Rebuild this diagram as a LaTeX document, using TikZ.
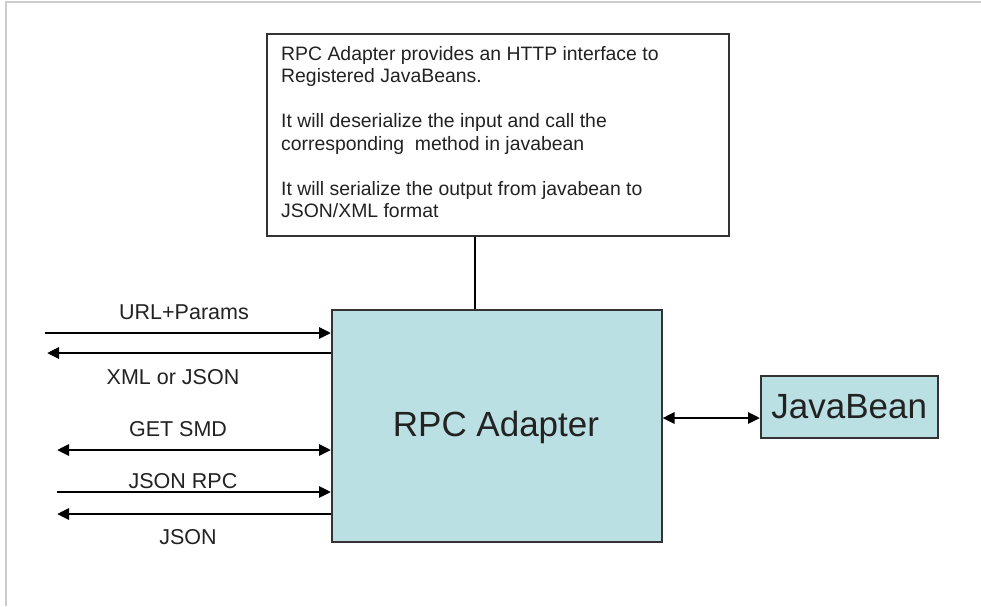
\documentclass[tikz,border=0pt]{standalone}
\usepackage{fontspec}
\setmainfont{Liberation Sans}
\usetikzlibrary{arrows.meta}
\definecolor{boxblue}{HTML}{BBE0E3}
\definecolor{txt}{HTML}{222222}
\definecolor{frame}{HTML}{CCCCCC}
\begin{document}
\begin{tikzpicture}[x=1pt,y=-1pt,
  box/.style={draw=black!80, line width=1.5pt, inner sep=0pt, anchor=north west},
  link/.style={draw=black, line width=2.8pt, -{Triangle[length=12pt,width=11pt]}},
  dlink/.style={draw=black, line width=2.8pt, {Triangle[length=12pt,width=11pt]}-{Triangle[length=12pt,width=11pt]}},
  lbl/.style={text=txt, font=\fontsize{21.5}{24}\selectfont, inner sep=0pt}]
\useasboundingbox (0,0) rectangle (981,606);
\fill[white] (0,0) rectangle (981,606);
\draw[frame, line width=2pt] (6,606) -- (6,2) -- (981,2);
% note box
\node[box, fill=white, minimum width=462pt, minimum height=202pt] (note) at (266,33) {};
\node[text=txt, anchor=north west, inner sep=0pt, align=left,
      font=\fontsize{19.4}{22.5}\selectfont] (notetext) at (281,46)
  {RPC Adapter provides an HTTP interface to\\
   Registered JavaBeans.\\[22.5pt]
   It will deserialize the input and call the\\
   corresponding\ \ method in javabean\\[22.5pt]
   It will serialize the output from javabean to\\
   JSON/XML format};
% adapter
\node[box, fill=boxblue, minimum width=330pt, minimum height=232pt] (rpc) at (331,309) {};
\node[text=txt, font=\fontsize{35}{40}\selectfont, inner sep=0pt] (rpclabel) at (496,427) {RPC Adapter};
% javabean
\node[box, fill=boxblue, minimum width=177pt, minimum height=62pt] (jb) at (760,375) {};
\node[text=txt, font=\fontsize{35}{40}\selectfont, inner sep=0pt] (jblabel) at (jb.center) {JavaBean};
% connectors
\coordinate (lx) at (475,0);
\draw[line width=1.5pt] (note.south -| lx) -- (rpc.north -| lx);
\coordinate (jy) at (0,418);
\draw[dlink] (rpc.east |- jy) -- (jb.west |- jy);
\coordinate (a1) at (45,333);
\coordinate (a2) at (47,353);
\coordinate (a3) at (57,450);
\coordinate (a4) at (57,492);
\coordinate (a5) at (57,514);
\draw[link] (a1) -- (rpc.west |- a1);
\draw[link] (rpc.west |- a2) -- (a2);
\draw[dlink] (a3) -- (rpc.west |- a3);
\draw[link] (a4) -- (rpc.west |- a4);
\draw[link] (rpc.west |- a5) -- (a5);
% labels
\node[lbl] (l1) at (184,312) {URL+Params};
\node[lbl] (l2) at (173,377) {XML or JSON};
\node[lbl] (l3) at (178,429) {GET SMD};
\node[lbl] (l4) at (183,481) {JSON RPC};
\node[lbl] (l5) at (188,537) {JSON};
\end{tikzpicture}
\end{document}
